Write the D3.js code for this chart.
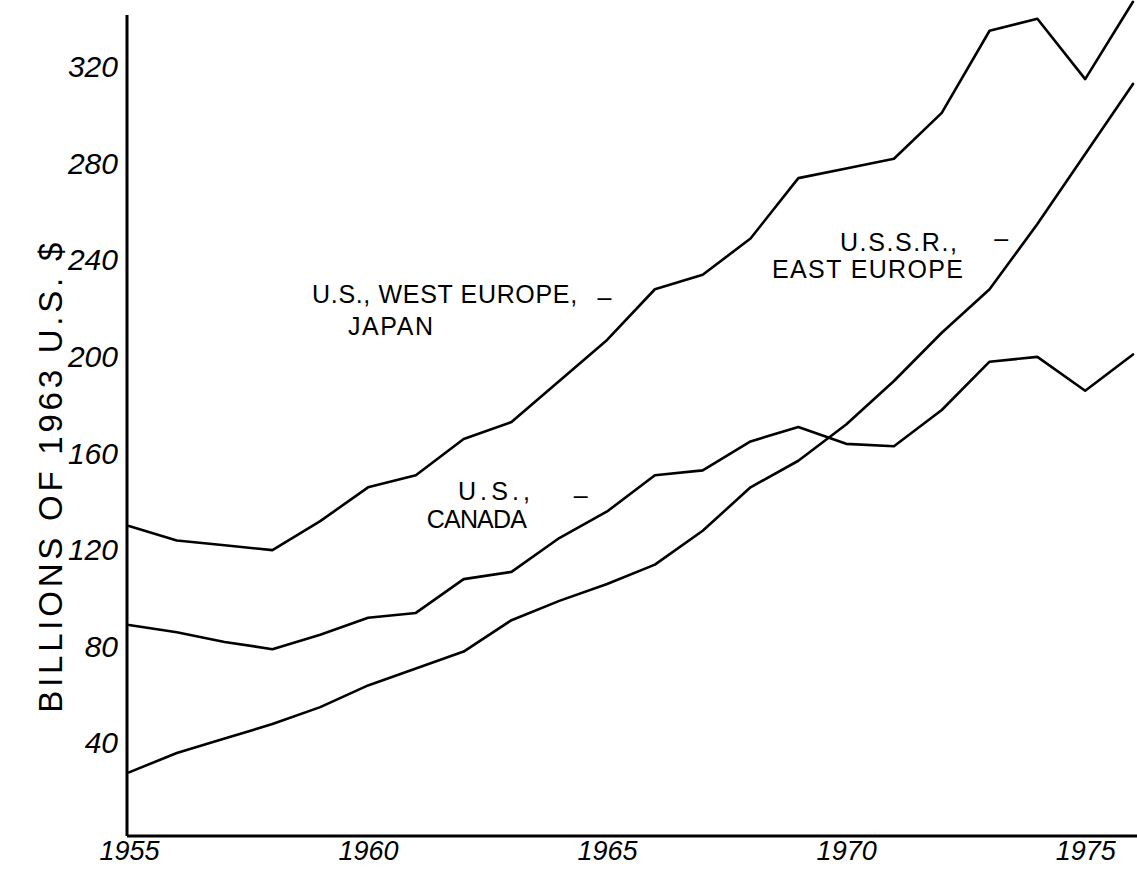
<!DOCTYPE html>
<html>
<head>
<meta charset="utf-8">
<script src="https://cdn.jsdelivr.net/npm/d3@7"></script>
<style>
  body { margin: 0; background: #fff; }
  svg { display: block; background: #fff; }
  .line { fill: none; stroke: #000; stroke-width: 2.6; stroke-linejoin: round; stroke-linecap: round; }
  .frame { stroke: #000; stroke-width: 3; }
  .tick text { font-family: "Liberation Sans", sans-serif; font-style: italic; fill: #000; }
  .note { font-family: "Liberation Sans", sans-serif; font-size: 25px; fill: #000; }
</style>
</head>
<body>
<svg id="chart" width="1137" height="873"></svg>
<script>
// values (billions of 1963 U.S. $)
const years = [1955, 1956, 1957, 1958, 1959, 1960, 1961, 1962, 1963, 1964, 1965,
               1966, 1967, 1968, 1969, 1970, 1971, 1972, 1973, 1974, 1975, 1976]
const usWestEuropeJapan = [130, 124, 122, 120, 132, 146, 151, 166, 173, 190, 207,
                           228, 234, 249, 274, 278, 282, 301, 335, 340, 315, 347]
const usCanada = [89, 86, 82, 79, 85, 92, 94, 108, 111, 125, 136,
                  151, 153, 165, 171, 164, 163, 178, 198, 200, 186, 201]
const ussrEastEurope = [28, 36, 42, 48, 55, 64, 71, 78, 91, 99, 106,
                        114, 128, 146, 157, 172, 190, 210, 228, 255, 284, 313]

const yearTicks = [1955, 1960, 1965, 1970, 1975]
const valueTicks = [40, 80, 120, 160, 200, 240, 280, 320]
const yTitle = "BILLIONS OF 1963 U.S. $"
const westLabel = ["U.S., WEST EUROPE,", "JAPAN"]
const eastLabel = ["U.S.S.R.,", "EAST EUROPE"]
const canadaLabel = ["U.S.,", "CANADA"]
const pointer = "\u2013"

const width = 1137, height = 873
const axisX = 127, axisY = 836, axisTop = 15

const svg = d3.select("#chart")

// scales: years along the bottom, values up the side
const xScale = d3.scaleLinear().domain([1955, 1976]).range([129, 1133])
const yScale = d3.scaleLinear().domain([0, 320]).range([840, 67])

// the three series
const series = [usWestEuropeJapan, usCanada, ussrEastEurope]
const line = d3.line()
  .x((d, i) => xScale(years[i]))
  .y(d => yScale(d))

svg.selectAll("path.line")
  .data(series)
  .join("path")
  .attr("class", "line")
  .attr("d", line)

// axes
svg.append("line").attr("class", "frame")
  .attr("x1", axisX).attr("x2", axisX).attr("y1", axisTop).attr("y2", axisY)
svg.append("line").attr("class", "frame")
  .attr("x1", axisX).attr("x2", width).attr("y1", axisY).attr("y2", axisY)

const xAxis = d3.axisBottom(xScale).tickValues(yearTicks).tickFormat(d3.format("d"))
  .tickSize(0).tickPadding(5)
const yAxis = d3.axisLeft(yScale).tickValues(valueTicks)
  .tickSize(0).tickPadding(9)

svg.append("g")
  .attr("transform", "translate(0," + axisY + ")")
  .call(xAxis)
  .call(g => g.select(".domain").remove())
  .selectAll("text").style("font-size", "27px")

svg.append("g")
  .attr("transform", "translate(" + axisX + ",0)")
  .call(yAxis)
  .call(g => g.select(".domain").remove())
  .selectAll("text").style("font-size", "30px")

// rotated axis title
svg.append("text")
  .attr("class", "note")
  .attr("transform", "translate(62," + yScale(150) + ") rotate(-90)")
  .attr("text-anchor", "middle")
  .style("font-size", "33px")
  .attr("textLength", 470)
  .attr("lengthAdjust", "spacing")
  .text(yTitle)

// hand written series labels, placed in data coordinates
function note(txt, yr, v, len) {
  const t = svg.append("text").attr("class", "note")
    .attr("x", xScale(yr)).attr("y", yScale(v))
    .text(txt)
  if (len) t.attr("textLength", len).attr("lengthAdjust", "spacing")
}
note(westLabel[0], 1958.83, 222.3, 265)
note(pointer, 1964.8, 221)
note(westLabel[1], 1959.58, 209, 85)

note(eastLabel[0], 1969.87, 244, 117)
note(pointer, 1973.1, 245.5)
note(eastLabel[1], 1968.45, 232.7, 191)

note(canadaLabel[0], 1961.88, 140.8, 72)
note(pointer, 1964.3, 139)
note(canadaLabel[1], 1961.23, 129.2, 100)
</script>
</body>
</html>
